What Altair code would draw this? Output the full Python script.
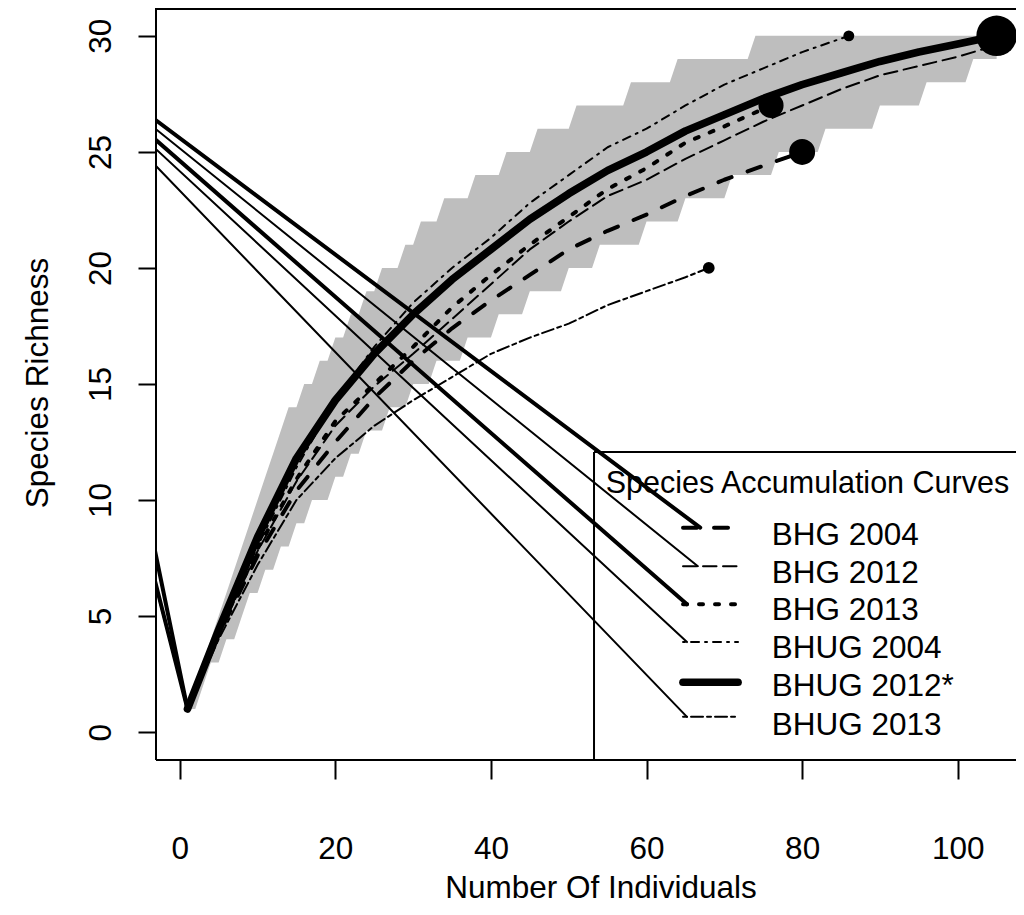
import altair as alt
import pandas as pd

# ---------------- data ----------------
series = ["BHG 2004", "BHG 2012", "BHG 2013", "BHUG 2004", "BHUG 2012*", "BHUG 2013"]

bhg2004_x = [1, 5, 10, 15, 20, 25, 30, 35, 40, 45, 50, 55, 60, 65, 70, 75, 80]
bhg2004_y = [1, 4.2, 7.6, 10.4, 12.5, 14.4, 16.0, 17.4, 18.6, 19.7, 20.8, 21.6, 22.3, 23.1, 23.8, 24.4, 25]
bhg2012_x = [1, 5, 10, 15, 20, 25, 30, 35, 40, 45, 50, 55, 60, 65, 70, 75, 80, 85, 90, 95, 100, 105, 109]
bhg2012_y = [1, 4.2, 7.8, 10.8, 13.2, 14.9, 16.3, 17.8, 19.3, 20.8, 22.0, 23.1, 23.8, 24.7, 25.5, 26.3, 27.0, 27.7, 28.3, 28.7, 29.1, 29.6, 30]
bhg2013_x = [1, 5, 10, 15, 20, 25, 30, 35, 40, 45, 50, 55, 60, 65, 70, 76]
bhg2013_y = [1, 4.3, 7.9, 10.9, 13.4, 15.0, 16.6, 18.3, 19.7, 21.0, 22.2, 23.4, 24.3, 25.4, 26.1, 27]
bhug2004_x = [1, 5, 10, 15, 20, 25, 30, 35, 40, 45, 50, 55, 60, 65, 70, 75, 80, 86]
bhug2004_y = [1, 4.3, 8.0, 11.4, 14.3, 16.6, 18.5, 20.0, 21.3, 22.8, 24.0, 25.2, 26.0, 27.0, 27.9, 28.6, 29.3, 30]
bhug2012_x = [1, 5, 10, 15, 20, 25, 30, 35, 40, 45, 50, 55, 60, 65, 70, 75, 80, 85, 90, 95, 100, 105]
bhug2012_y = [1, 4.4, 8.4, 11.8, 14.3, 16.3, 18.0, 19.5, 20.8, 22.1, 23.2, 24.2, 25.0, 25.9, 26.6, 27.3, 27.9, 28.4, 28.9, 29.3, 29.65, 30]
bhug2013_x = [1, 5, 10, 15, 20, 25, 30, 35, 40, 45, 50, 55, 60, 65, 68]
bhug2013_y = [1, 4.0, 7.2, 10.0, 11.8, 13.2, 14.3, 15.3, 16.3, 17.0, 17.6, 18.4, 19.0, 19.6, 20]

curves_x = [bhg2004_x, bhg2012_x, bhg2013_x, bhug2004_x, bhug2012_x, bhug2013_x]
curves_y = [bhg2004_y, bhg2012_y, bhg2013_y, bhug2004_y, bhug2012_y, bhug2013_y]

# end-point marker sizes (area, px^2)
end_sizes = [674, 123, 629, 119, 1640, 139]

# confidence band (step polygon): first x of each integer richness level
band_upper_start = [1, 2, 3, 4, 5, 6, 7, 8, 9, 10, 11, 12, 13, 14, 16, 18, 20, 22, 24, 26,
                    29, 31, 34, 38, 42, 46, 51, 58, 64, 74]   # levels 1..30
band_lower_start = [1, 3, 4, 6, 8, 9, 11, 13, 15, 17, 20, 22, 24, 27, 30, 33, 37, 41, 45, 50,
                    54, 60, 65, 71, 77, 83, 90, 96, 102]     # levels 1..29
band_end = 105

# stray connector segments seen in the figure
conn_low_y = [7.6, 7.55, 6.35, 6.3, None, 6.25]          # at left frame, from (1,1)
conn_up_y = [26.36, 25.98, 25.51, 25.12, None, 24.39]    # at left frame, to legend keys
conn_up_end_x = [66.9, 66.6, 65.2, 65.2, None, 65.2]

# legend (data coordinates)
legend_key_y = [8.81, 7.15, 5.51, 3.88, 2.15, 0.66]
legend_text_y = [8.08, 6.44, 4.83, 3.18, 1.55, -0.12]
legend_key_x0, legend_key_x1 = 64.69, 71.76
legend_text_x = 76.1
legend_title = "Species Accumulation Curves"
legend_title_x, legend_title_y = 54.75, 10.3
legend_box_x, legend_box_y = 53.25, 12.07

x_ticks = [0, 20, 40, 60, 80, 100]
y_ticks = [0, 5, 10, 15, 20, 25, 30]

# ---------------- styling ----------------
widths = [4, 2, 4, 2, 7.7, 2]
dashes = [[14, 17], [13.5, 6.5], [4, 12], [2, 6, 8, 6], None, [4, 4, 12, 4]]
FONT = "Liberation Sans"
FS = 31.5
FS_TITLE = 30.5
X_MIN, X_MAX = -3.05, 107.49
Y_MIN, Y_MAX = -1.2, 31.2
W, H = 860, 752

xscale = alt.Scale(domain=[X_MIN, X_MAX], nice=False, zero=False)
yscale = alt.Scale(domain=[Y_MIN, Y_MAX], nice=False, zero=False)
xaxis = alt.Axis(values=x_ticks, title=None, grid=False, domain=False, tickSize=19, tickWidth=2,
                 tickColor="black", labelFont=FONT, labelFontSize=FS, labelColor="black",
                 labelPadding=79, labelBaseline="alphabetic", labelFlush=False, labelOverlap=False)
yaxis = alt.Axis(values=y_ticks, title=None, grid=False, domain=False, tickSize=18, tickWidth=2,
                 tickColor="black", labelFont=FONT, labelFontSize=FS, labelColor="black",
                 labelAngle=-90, labelAlign="center", labelBaseline="alphabetic",
                 labelPadding=28, labelFlush=False, labelOverlap=False)

def X(f):
    return alt.X(f"{f}:Q", scale=xscale, axis=xaxis)

def Y(f):
    return alt.Y(f"{f}:Q", scale=yscale, axis=yaxis)

layers = []

# band
def level_at(starts, x):
    lev = 0
    for i, s in enumerate(starts):
        if s <= x:
            lev = i + 1
    return lev

band_x = list(range(1, band_end + 1))
band_df = pd.DataFrame({
    "x": band_x,
    "hi": [level_at(band_upper_start, v) for v in band_x],
    "lo": [level_at(band_lower_start, v) for v in band_x],
})
layers.append(alt.Chart(band_df).mark_area(color="#bebebe", opacity=1, clip=True).encode(
    x=X("x"), y=Y("hi"), y2="lo:Q"))

# connectors (solid)
rows = []
for i, yv in enumerate(conn_low_y):
    if yv is None:
        continue
    rows.append({"x0": 1, "y0": 1, "x1": X_MIN - 0.5, "y1": yv + (yv - 1) * 0.5 / 4.05, "w": widths[i]})
for i, yv in enumerate(conn_up_y):
    if yv is None:
        continue
    rows.append({"x0": X_MIN, "y0": yv, "x1": conn_up_end_x[i], "y1": legend_key_y[i], "w": widths[i]})
for r in rows:
    d = pd.DataFrame([r])
    layers.append(alt.Chart(d).mark_rule(color="black", strokeWidth=r["w"], strokeCap="round", clip=True)
                  .encode(x=X("x0"), y=Y("y0"), x2="x1:Q", y2="y1:Q"))

# curves, legend keys
for i, name in enumerate(series):
    df = pd.DataFrame({"x": curves_x[i], "y": curves_y[i]})
    kw = dict(color="black", strokeWidth=widths[i], strokeCap="round", strokeJoin="round", clip=True)
    if dashes[i] is not None:
        kw["strokeDash"] = dashes[i]
    layers.append(alt.Chart(df).mark_line(**kw).encode(x=X("x"), y=Y("y"), order="x:Q"))
    key = pd.DataFrame({"x0": [legend_key_x0], "x1": [legend_key_x1], "y": [legend_key_y[i]]})
    kw2 = dict(color="black", strokeWidth=widths[i], strokeCap="round")
    if dashes[i] is not None:
        kw2["strokeDash"] = dashes[i]
    layers.append(alt.Chart(key).mark_rule(**kw2).encode(x=X("x0"), x2="x1:Q", y=Y("y")))

# end points
ends = pd.DataFrame({
    "x": [c[-1] for c in curves_x],
    "y": [c[-1] for c in curves_y],
    "s": end_sizes,
})
layers.append(alt.Chart(ends).mark_circle(color="black", opacity=1).encode(
    x=X("x"), y=Y("y"), size=alt.Size("s:Q", scale=None, legend=None)))

# legend text
lt = pd.DataFrame({"x": [legend_text_x] * len(series), "y": legend_text_y, "t": series})
layers.append(alt.Chart(lt).mark_text(align="left", baseline="alphabetic", font=FONT, fontSize=FS,
                                      color="black").encode(x=X("x"), y=Y("y"), text="t:N"))
ltt = pd.DataFrame({"x": [legend_title_x], "y": [legend_title_y], "t": [legend_title]})
layers.append(alt.Chart(ltt).mark_text(align="left", baseline="alphabetic", font=FONT, fontSize=FS_TITLE,
                                       color="black").encode(x=X("x"), y=Y("y"), text="t:N"))
# legend box (left and top sides visible)
lb = pd.DataFrame({"x": [legend_box_x], "y": [legend_box_y], "y0": [Y_MIN], "x1": [X_MAX]})
layers.append(alt.Chart(lb).mark_rule(color="black", strokeWidth=2).encode(x=X("x"), y=Y("y"), y2="y0:Q"))
layers.append(alt.Chart(lb).mark_rule(color="black", strokeWidth=2).encode(x=X("x"), x2="x1:Q", y=Y("y")))

# frame (top, left, bottom)
one = pd.DataFrame({"a": [0]})
layers.append(alt.Chart(one).mark_rule(color="black", strokeWidth=2).encode(
    x=alt.value(0), x2=alt.value(W), y=alt.value(1)))
layers.append(alt.Chart(one).mark_rule(color="black", strokeWidth=2).encode(
    x=alt.value(0), x2=alt.value(W), y=alt.value(H)))
layers.append(alt.Chart(one).mark_rule(color="black", strokeWidth=2).encode(
    x=alt.value(0), y=alt.value(0), y2=alt.value(H)))

# axis titles
layers.append(alt.Chart(one).mark_text(text="Number Of Individuals", font=FONT, fontSize=FS, color="black",
                                       align="center", baseline="alphabetic").encode(
    x=alt.value(445), y=alt.value(890)))
layers.append(alt.Chart(one).mark_text(text="Species Richness", font=FONT, fontSize=FS, color="black",
                                       align="center", baseline="alphabetic", angle=270).encode(
    x=alt.value(-108), y=alt.value(375)))

chart = alt.layer(*layers).properties(
    width=W, height=H,
    padding={"left": 148, "top": 0, "right": 0, "bottom": 146},
    autosize=alt.AutoSizeParams(type="none"),
    background="white",
).configure_view(stroke=None)

chart.save("out.html", embed_options={"renderer": "svg", "actions": False})
